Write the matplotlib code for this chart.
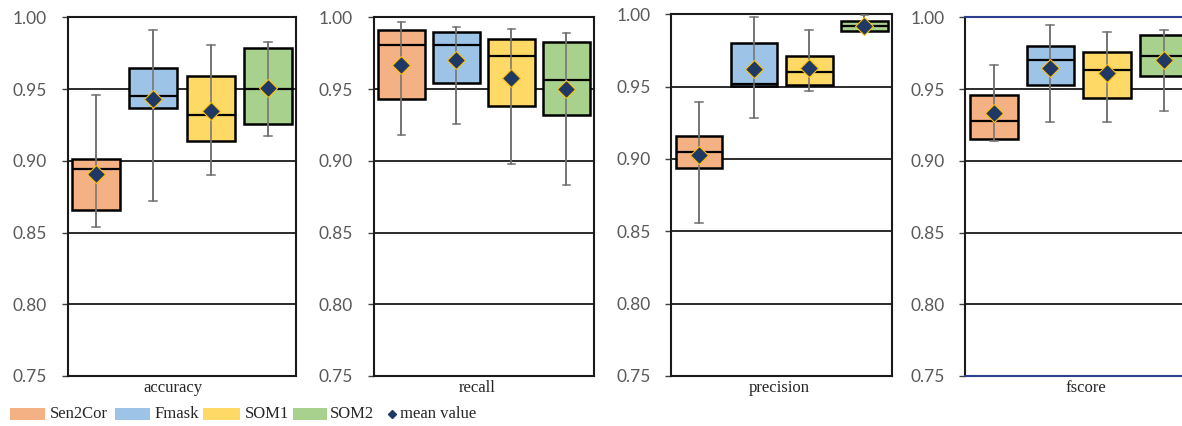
import matplotlib
matplotlib.use("Agg")
import matplotlib.pyplot as plt
from matplotlib.patches import Rectangle
from matplotlib.lines import Line2D

metrics = ["accuracy", "recall", "precision", "fscore"]
methods = ["Sen2Cor", "Fmask", "SOM1", "SOM2"]
colors = ["#F4B183", "#9DC3E6", "#FFD966", "#A9D18E"]

# one row per metric, one column per method
whis_lo = [[0.854, 0.872, 0.890, 0.917],
           [0.918, 0.926, 0.898, 0.883],
           [0.856, 0.928, 0.947, 0.988],
           [0.914, 0.927, 0.927, 0.935]]
q1 = [[0.866, 0.937, 0.914, 0.926],
      [0.943, 0.954, 0.938, 0.932],
      [0.894, 0.9505, 0.951, 0.9885],
      [0.915, 0.953, 0.944, 0.959]]
medians = [[0.894, 0.945, 0.932, 0.950],
           [0.981, 0.981, 0.973, 0.956],
           [0.905, 0.9515, 0.960, 0.992],
           [0.928, 0.970, 0.963, 0.973]]
q3 = [[0.901, 0.965, 0.959, 0.979],
      [0.991, 0.990, 0.985, 0.983],
      [0.916, 0.980, 0.971, 0.995],
      [0.946, 0.980, 0.976, 0.988]]
whis_hi = [[0.946, 0.991, 0.981, 0.983],
           [0.997, 0.993, 0.992, 0.989],
           [0.939, 0.998, 0.989, 0.9995],
           [0.967, 0.995, 0.990, 0.991]]
means = [[0.891, 0.943, 0.935, 0.951],
         [0.967, 0.970, 0.958, 0.950],
         [0.903, 0.962, 0.963, 0.992],
         [0.933, 0.965, 0.961, 0.970]]

yticks = [0.75, 0.80, 0.85, 0.90, 0.95, 1.00]

tick_font = "Lato"
text_font = "Liberation Serif"

fig = plt.figure(figsize=(11.82, 4.26), dpi=100)

positions = [(0.0573, 0.1174, 0.1934, 0.8418),
             (0.3164, 0.1174, 0.1861, 0.8418),
             (0.5681, 0.1174, 0.1866, 0.8492),
             (0.8167, 0.1174, 0.1920, 0.8418)]
label_x = [0.46, 0.47, 0.49, 0.53]

xs = [0.5, 1.5, 2.5, 3.5]

for m, metric in enumerate(metrics):
    ax = fig.add_axes(positions[m])
    stats = []
    for k in range(4):
        stats.append(dict(whislo=whis_lo[m][k], q1=q1[m][k], med=medians[m][k],
                          q3=q3[m][k], whishi=whis_hi[m][k], mean=means[m][k],
                          fliers=[]))
    bp = ax.bxp(stats, positions=xs, widths=0.84, capwidths=0.14,
                patch_artist=True, showmeans=False,
                boxprops=dict(linewidth=1.8, edgecolor="black"),
                medianprops=dict(color="black", linewidth=1.6),
                whiskerprops=dict(color="#707070", linewidth=1.1),
                capprops=dict(color="#707070", linewidth=1.1),
                zorder=3)
    for patch, c in zip(bp["boxes"], colors):
        patch.set_facecolor(c)
    # whisker line runs through the box as well
    ax.vlines(xs, whis_lo[m], whis_hi[m], color="#707070", linewidth=1.1, zorder=4)
    ax.plot(xs, means[m], linestyle="none", marker="D", markersize=9,
            markerfacecolor="#1F3864", markeredgecolor="#FFC000",
            markeredgewidth=0.8, zorder=5)

    ax.set_xlim(0, 4)
    ax.set_ylim(0.75, 1.00)
    ax.set_yticks(yticks)
    ax.set_yticklabels([f"{v:.2f}" for v in yticks])
    ax.set_xticks([])
    for y in yticks[1:-1]:
        ax.axhline(y, color="#1a1a1a", linewidth=1.3, zorder=1)
    ax.tick_params(axis="y", direction="out", length=4.5, width=1.0,
                   color="#404040", pad=10.5, labelsize=12.5,
                   labelcolor="#595959")
    for lab in ax.get_yticklabels():
        lab.set_fontfamily(tick_font)
    for sp in ax.spines.values():
        sp.set_linewidth(1.5)
        sp.set_color("#1a1a1a")
    if metric == "fscore":
        ax.spines["top"].set_color("#2E3F8F")
        ax.spines["bottom"].set_color("#2E3F8F")
    ax.text(label_x[m], -0.012, metric, transform=ax.transAxes,
            ha="center", va="top", fontsize=12, family=text_font,
            color="#262626")

# legend row along the bottom
W, H = 1182.0, 426.0
patch_spans = [(10, 45, 50), (115, 150, 155), (203, 240, 245), (293, 327, 330)]
for (x0, x1, tx), name, c in zip(patch_spans, methods, colors):
    fig.add_artist(Rectangle((x0 / W, 1 - 420 / H), (x1 - x0) / W, 12.3 / H,
                             transform=fig.transFigure, facecolor=c,
                             edgecolor="none"))
    fig.text(tx / W, 1 - 414.5 / H, name, ha="left", va="center",
             fontsize=12, family=text_font, color="#262626")
fig.add_artist(Line2D([392 / W], [1 - 414 / H], transform=fig.transFigure,
                      marker="D", markersize=4.5, color="#1F3864",
                      linestyle="none"))
fig.text(400 / W, 1 - 414.5 / H, "mean value", ha="left", va="center",
         fontsize=12, family=text_font, color="#262626")

fig.savefig("out.png", dpi=100)
